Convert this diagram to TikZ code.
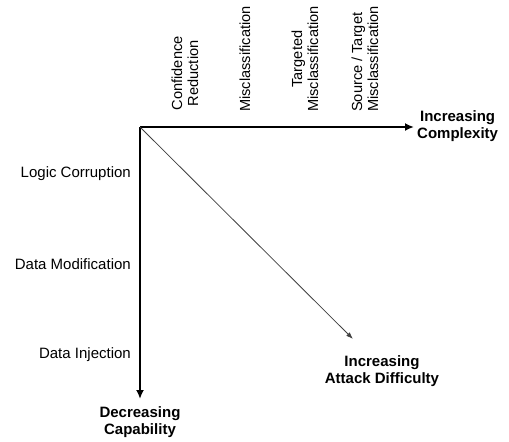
\documentclass[tikz,border=0pt]{standalone}
\usepackage{fontspec}
\setmainfont{Liberation Sans}
\usetikzlibrary{arrows.meta}

\tikzset{
    lbl/.style={font=\fontsize{15}{17}\selectfont, inner sep=0pt},
    axislbl/.style={lbl, font=\fontsize{15}{17.5}\selectfont\bfseries, align=center},
    toplbl/.style={lbl, font=\fontsize{14.6}{16}\selectfont, rotate=90, anchor=west, align=center},
    sidelbl/.style={lbl, anchor=east},
    axis/.style={line width=2pt, -{Latex[length=9pt,width=8pt]}},
    diag/.style={line width=0.8pt, draw=black!75, -{Latex[length=7pt,width=5pt]}}
}

\begin{document}
\begin{tikzpicture}[x=1pt,y=-1pt]
    \useasboundingbox (0,0) rectangle (509,442);

    \coordinate (O) at (140,127);
    \coordinate (Xend) at (414,127);
    \coordinate (Yend) at (140,399);
    \coordinate (Dend) at (353,339);

    % axis ends
    \node[axislbl, anchor=west] (cplx) at (417,126) {Increasing\\Complexity};
    \node[axislbl, anchor=north] (capa) at (140,406) {Decreasing\\Capability};
    \node[axislbl] (diff) at (382,371) {Increasing\\Attack Difficulty};

    % goals along the top
    \node[toplbl] (conf) at (185,110.5) {Confidence\\Reduction};
    \node[toplbl] (mis) at (245,112) {Misclassification};
    \node[toplbl] (tmis) at (305,112) {Targeted\\Misclassification};
    \node[toplbl, align=left] (stmis) at (365,112) {Source / Target\\Misclassification};

    % capabilities down the side
    \node[sidelbl] (logic) at (131,174) {Logic Corruption};
    \node[sidelbl] (dmod) at (131,264) {Data Modification};
    \node[sidelbl] (dinj) at (131,355) {Data Injection};

    \draw[axis] (O) -- (Xend);
    \draw[axis] (O) -- (Yend);
    \draw[diag] (O) -- (Dend);
\end{tikzpicture}
\end{document}
